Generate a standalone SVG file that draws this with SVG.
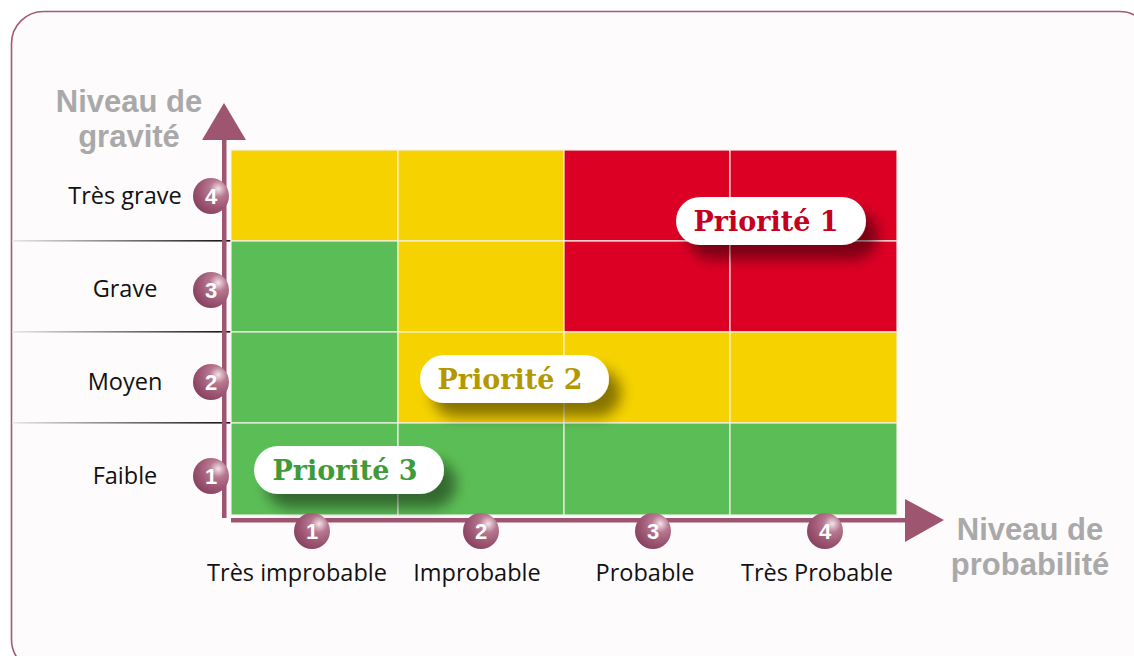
<svg xmlns="http://www.w3.org/2000/svg" width="1134" height="656" viewBox="0 0 1134 656">
<defs>
<style>
.lbl{font-family:"Open Sans","Liberation Sans",sans-serif;font-size:23.5px;fill:#111;text-anchor:middle}
.ttl{font-family:"Liberation Sans",Arial,sans-serif;font-weight:bold;font-size:31px;fill:#a9a9a9;text-anchor:middle}
.num{font-family:"Liberation Sans",Arial,sans-serif;font-weight:bold;font-size:22px;fill:#fff;text-anchor:middle}
.pri{font-family:"DejaVu Serif","Liberation Serif",serif;font-weight:bold;font-size:27px;text-anchor:middle}
.cell{stroke:#f4f0e8;stroke-width:1.2}
.y{fill:#f5d200}.r{fill:#dc0024}.g{fill:#5bbd55}
.axis{fill:#9e5570}
.pill{fill:#fff}
</style>
<radialGradient id="ball" cx="0.7" cy="0.3" r="0.8">
<stop offset="0" stop-color="#f4e4ea"/>
<stop offset="0.3" stop-color="#b77890"/>
<stop offset="0.7" stop-color="#9a5370"/>
<stop offset="1" stop-color="#86405d"/>
</radialGradient>
<linearGradient id="sep" x1="0" y1="0" x2="1" y2="0">
<stop offset="0" stop-color="#e8e8e8"/>
<stop offset="1" stop-color="#111"/>
</linearGradient>
<filter id="sh" x="-20%" y="-50%" width="150%" height="220%">
<feGaussianBlur in="SourceAlpha" stdDeviation="7"/>
<feOffset dx="12" dy="14"/>
<feComponentTransfer><feFuncA type="linear" slope="0.45"/></feComponentTransfer>
<feMerge><feMergeNode/><feMergeNode in="SourceGraphic"/></feMerge>
</filter>
</defs>
<rect x="0" y="0" width="1134" height="656" fill="#fff"/>
<rect x="11.5" y="11.5" width="1140" height="660" rx="32" fill="#fefbfc" stroke="#a35a76" stroke-width="1.6"/>

<g id="separators">
<rect x="12" y="240" width="219" height="1.6" fill="url(#sep)"/>
<rect x="12" y="331" width="219" height="1.6" fill="url(#sep)"/>
<rect x="12" y="422" width="219" height="1.6" fill="url(#sep)"/>
</g>

<g id="grid">
<rect class="cell y" x="231" y="150" width="167" height="91"/>
<rect class="cell y" x="398" y="150" width="166" height="91"/>
<rect class="cell r" x="564" y="150" width="166" height="91"/>
<rect class="cell r" x="730" y="150" width="167" height="91"/>
<rect class="cell g" x="231" y="241" width="167" height="91"/>
<rect class="cell y" x="398" y="241" width="166" height="91"/>
<rect class="cell r" x="564" y="241" width="166" height="91"/>
<rect class="cell r" x="730" y="241" width="167" height="91"/>
<rect class="cell g" x="231" y="332" width="167" height="91"/>
<rect class="cell y" x="398" y="332" width="166" height="91"/>
<rect class="cell y" x="564" y="332" width="166" height="91"/>
<rect class="cell y" x="730" y="332" width="167" height="91"/>
<rect class="cell g" x="231" y="423" width="167" height="92"/>
<rect class="cell g" x="398" y="423" width="166" height="92"/>
<rect class="cell g" x="564" y="423" width="166" height="92"/>
<rect class="cell g" x="730" y="423" width="167" height="92"/>
</g>

<g id="connectors">
<rect class="axis" x="222" y="138" width="4.5" height="380"/>
<polygon class="axis" points="224,103 202,140 246,140"/>
<rect class="axis" x="231" y="518" width="676" height="4.5"/>
<polygon class="axis" points="944,520 905,499 905,542"/>
</g>

<g id="axis-title-y">
<text class="ttl" x="129" y="112">Niveau de</text>
<text class="ttl" x="129" y="147">gravité</text>
</g>
<g id="axis-title-x">
<text class="ttl" x="1030" y="540">Niveau de</text>
<text class="ttl" x="1030" y="575">probabilité</text>
</g>

<g id="row-4"><text class="lbl" x="125" y="204">Très grave</text><circle cx="211" cy="196" r="18" fill="url(#ball)"/><text class="num" x="211" y="204">4</text></g>
<g id="row-3"><text class="lbl" x="125" y="297">Grave</text><circle cx="211" cy="290" r="18" fill="url(#ball)"/><text class="num" x="211" y="298">3</text></g>
<g id="row-2"><text class="lbl" x="125" y="390">Moyen</text><circle cx="211" cy="382" r="18" fill="url(#ball)"/><text class="num" x="211" y="390">2</text></g>
<g id="row-1"><text class="lbl" x="125" y="484">Faible</text><circle cx="211" cy="476" r="18" fill="url(#ball)"/><text class="num" x="211" y="484">1</text></g>

<g id="col-1"><circle cx="312" cy="531" r="18" fill="url(#ball)"/><text class="num" x="312" y="539">1</text><text class="lbl" x="297" y="581">Très improbable</text></g>
<g id="col-2"><circle cx="481" cy="531" r="18" fill="url(#ball)"/><text class="num" x="481" y="539">2</text><text class="lbl" x="477" y="581">Improbable</text></g>
<g id="col-3"><circle cx="653" cy="531" r="18" fill="url(#ball)"/><text class="num" x="653" y="539">3</text><text class="lbl" x="645" y="581">Probable</text></g>
<g id="col-4"><circle cx="825" cy="531" r="18" fill="url(#ball)"/><text class="num" x="825" y="539">4</text><text class="lbl" x="817" y="581">Très Probable</text></g>

<g id="priorite-1"><rect class="pill" x="676" y="197" width="190" height="48" rx="24" filter="url(#sh)"/><text class="pri" x="766" y="231" fill="#c4001f">Priorité 1</text></g>
<g id="priorite-2"><rect class="pill" x="420" y="355" width="189" height="48" rx="24" filter="url(#sh)"/><text class="pri" x="510" y="389" fill="#b59800">Priorité 2</text></g>
<g id="priorite-3"><rect class="pill" x="254" y="446" width="190" height="48" rx="24" filter="url(#sh)"/><text class="pri" x="345" y="480" fill="#3f9a3a">Priorité 3</text></g>
</svg>
